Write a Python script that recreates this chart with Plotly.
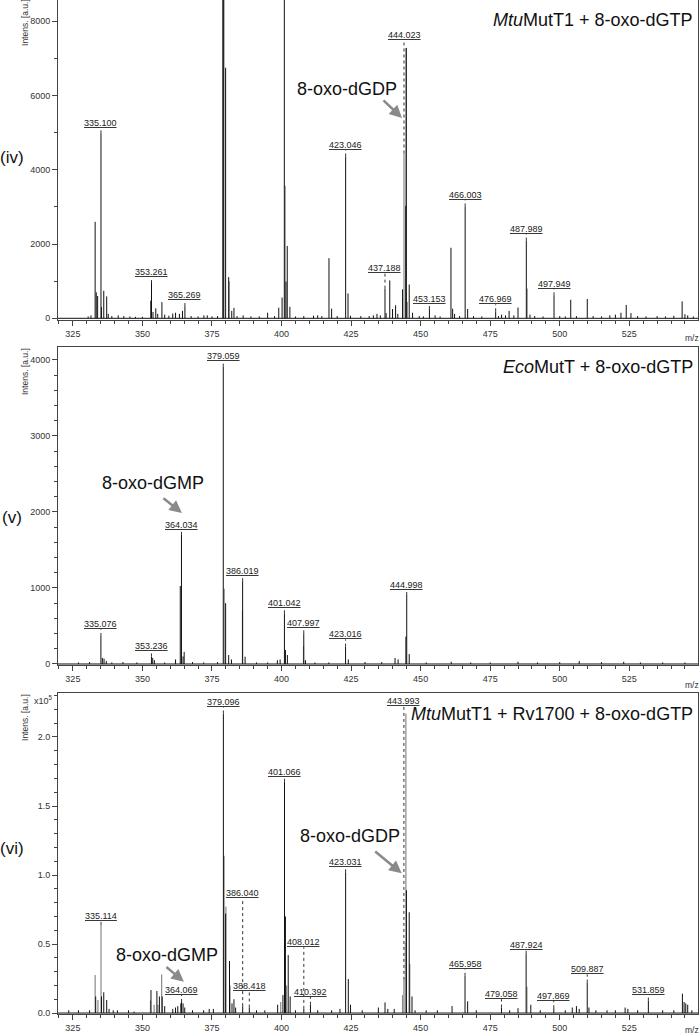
import plotly.graph_objects as go

# ---------------- DATA ----------------
# Panel (iv): MtuMutT1 + 8-oxo-dGTP
iv_black_mz = [330.5, 331.5, 333.0, 333.4, 333.9, 335.1, 335.3, 336.1, 337.15, 337.7, 339.0, 341.3, 343.3, 345.5,
               347.5, 350.0, 353.07, 353.26, 353.8, 354.8, 355.5, 357.0, 358.0, 359.5, 360.9, 361.9, 363.3, 364.4,
               365.27, 367.5, 370.0, 372.1, 373.3, 375.0, 377.0, 378.9, 379.25, 379.9, 381.0, 382.1, 382.9, 384.0,
               386.2, 389.0, 392.0, 395.0, 397.5, 399.0, 400.2, 401.0, 401.6, 402.05, 403.0, 405.0, 408.0, 411.5,
               413.0, 414.5, 417.05, 418.0, 420.0, 423.046, 423.9, 424.8, 428.5, 431.5, 433.0, 434.3, 435.5,
               437.188, 437.6, 438.9, 439.9, 441.0, 441.8, 443.5, 444.65, 444.85, 445.9, 447.1, 449.5, 451.0,
               453.153, 455.2, 457.0, 460.9, 461.5, 462.2, 464.0, 466.003, 466.9, 469.0, 472.0, 476.969, 478.0,
               479.1, 480.5, 481.8, 483.5, 485.0, 487.989, 489.3, 491.0, 494.0, 497.949, 500.0, 502.0, 503.95,
               506.0, 509.9, 512.0, 515.0, 518.0, 520.0, 522.0, 523.9, 525.6, 528.0, 531.0, 535.0, 538.0, 541.0,
               544.0, 545.0, 546.0, 548.0]
iv_black_int = [50, 80, 2600, 700, 600, 4985, 300, 740, 590, 120, 60, 80, 60, 50,
                40, 40, 470, 950, 170, 270, 120, 435, 100, 70, 130, 150, 120, 200,
                330, 60, 50, 80, 80, 50, 60, 16000, 16000, 6750, 1110, 200, 280, 60,
                80, 50, 50, 150, 60, 285, 560, 16000, 990, 1950, 310, 50, 60, 70,
                80, 60, 1620, 260, 60, 4360, 670, 70, 60, 60, 80, 120, 80,
                800, 140, 1020, 250, 350, 120, 780, 3030, 7285, 910, 150, 60, 50,
                250, 80, 50, 1900, 260, 120, 60, 3015, 250, 60, 50, 190, 60,
                100, 80, 200, 80, 290, 2095, 100, 60, 50, 620, 60, 50, 500,
                60, 520, 60, 50, 80, 100, 150, 360, 140, 60, 50, 60, 50, 70,
                455, 110, 80, 50]
iv_grey_mz = [353.0, 379.1, 381.2, 401.3, 444.023, 444.75, 445.2, 488.3]
iv_grey_int = [480, 16000, 1000, 3570, 4440, 7285, 440, 800]
iv_label_mz = [335.100, 353.261, 365.269, 423.046, 437.188, 444.023, 453.153, 466.003, 476.969, 487.989, 497.949]
iv_label_text = ["335.100", "353.261", "365.269", "423.046", "437.188", "444.023", "453.153", "466.003",
                 "476.969", "487.989", "497.949"]
iv_label_y = [5130, 1110, 483, 4540, 1216, 7490, 376, 3187, 376, 2274, 797]
iv_label_top = [4985, 950, 330, 4360, 800, 4440, 250, 3015, 190, 2095, 620]

# Panel (v): EcoMutT + 8-oxo-dGTP
v_black_mz = [327.0, 331.0, 335.076, 335.6, 336.2, 337.0, 339.0, 343.0, 348.0, 353.236, 353.7, 354.3, 358.0,
              361.9, 363.6, 364.034, 364.6, 365.0, 368.0, 372.0, 377.0, 379.059, 379.9, 381.0, 382.0, 386.02,
              386.9, 391.0, 395.0, 398.5, 399.5, 401.042, 401.4, 402.1, 407.997, 408.6, 412.0, 417.0, 423.016,
              424.0, 430.0, 436.0, 440.8, 441.9, 444.7, 444.998, 445.9, 452.0, 461.0, 468.0, 475.0, 485.0,
              492.0, 500.0, 507.0, 515.0, 523.0, 529.0, 537.0, 545.0]
v_black_int = [20, 25, 368, 80, 70, 40, 20, 25, 20, 100, 80, 50, 20,
               60, 1026, 1700, 100, 160, 25, 20, 25, 3912, 800, 118, 60, 1090,
               96, 20, 20, 50, 60, 667, 184, 118, 404, 50, 20, 20, 228,
               60, 25, 25, 79, 60, 360, 908, 130, 20, 30, 20, 20, 30,
               20, 25, 40, 25, 30, 20, 20, 20]
v_grey_mz = [379.4, 385.95, 407.9]
v_grey_int = [990, 700, 237]
v_label_mz = [335.076, 353.236, 364.034, 379.059, 386.019, 401.042, 407.997, 423.016, 444.998]
v_label_text = ["335.076", "353.236", "364.034", "379.059", "386.019", "401.042", "407.997", "423.016", "444.998"]
v_label_y = [456, 176, 1763, 3991, 1158, 733, 478, 325, 974]
v_label_top = [368, 100, 1700, 3912, 1090, 667, 404, 228, 908]

# Panel (vi): MtuMutT1 + Rv1700 + 8-oxo-dGTP  (x10^5)
vi_black_mz = [323.5, 327.0, 331.0, 333.2, 335.3, 336.1, 337.15, 338.0, 339.5, 341.0, 345.0, 347.0, 353.07,
               355.2, 356.1, 357.1, 358.0, 360.9, 361.9, 362.7, 363.8, 364.069, 364.6, 365.2, 368.0, 372.0,
               374.0, 375.5, 379.096, 379.9, 381.3, 382.2, 382.9, 383.5, 386.04, 388.418, 391.0, 394.0, 398.6,
               400.5, 401.066, 401.4, 402.4, 403.1, 405.0, 408.012, 410.392, 413.0, 418.0, 421.0, 423.031,
               424.0, 424.8, 429.0, 434.8, 437.2, 438.2, 440.5, 444.9, 445.9, 446.9, 448.0, 452.0, 456.0,
               461.3, 465.958, 466.9, 470.0, 479.058, 482.0, 485.0, 487.924, 489.6, 493.0, 497.869, 502.0,
               504.5, 506.0, 507.0, 509.887, 510.5, 513.0, 517.0, 520.0, 523.5, 524.5, 528.0, 531.859, 537.0,
               541.0, 544.1, 544.7, 545.3, 546.0, 547.5]
vi_black_int = [0.02, 0.02, 0.02, 0.12, 0.12, 0.15, 0.094, 0.03, 0.02, 0.02, 0.02, 0.01, 0.167,
                0.16, 0.12, 0.12, 0.05, 0.03, 0.04, 0.05, 0.07, 0.08, 0.07, 0.04, 0.02, 0.02,
                0.03, 0.03, 2.17, 0.72, 0.377, 0.07, 0.1, 0.04, 0.05, 0.04, 0.02, 0.02, 0.06,
                0.13, 1.676, 0.70, 0.42, 0.12, 0.02, 0.03, 0.06, 0.02, 0.02, 0.03, 1.02,
                0.246, 0.06, 0.02, 0.04, 0.077, 0.03, 0.03, 0.89, 0.73, 0.12, 0.02, 0.02, 0.02,
                0.05, 0.27, 0.085, 0.02, 0.04, 0.02, 0.035, 0.43, 0.06, 0.02, 0.035, 0.02,
                0.04, 0.05, 0.03, 0.22, 0.04, 0.02, 0.02, 0.02, 0.04, 0.03, 0.02, 0.09, 0.02,
                0.02, 0.14, 0.08, 0.07, 0.06, 0.02]
vi_grey_mz = [333.0, 334.0, 335.114, 352.9, 354.2, 355.6, 356.9, 379.35, 380.0, 381.5, 399.7, 401.8,
              443.5, 443.993, 444.5, 444.7, 446.1, 488.2]
vi_grey_int = [0.275, 0.094, 0.638, 0.09, 0.06, 0.06, 0.28, 1.14, 0.77, 0.2, 0.08, 0.2,
               0.13, 0.24, 0.51, 2.17, 0.355, 0.19]
vi_label_mz = [335.114, 364.069, 379.096, 386.040, 388.418, 401.066, 408.012, 410.392, 423.031, 443.993,
               465.958, 479.058, 487.924, 497.869, 509.887, 531.859]
vi_label_text = ["335.114", "364.069", "379.096", "386.040", "388.418", "401.066", "408.012", "410.392",
                 "423.031", "443.993", "465.958", "479.058", "487.924", "497.869", "509.887", "531.859"]
vi_label_y = [0.669, 0.13, 2.22, 0.83, 0.16, 1.71, 0.476, 0.118, 1.056, 2.227, 0.317, 0.1, 0.457, 0.09, 0.28, 0.13]
vi_label_top = [0.638, 0.08, 2.17, 0.05, 0.04, 1.676, 0.03, 0.06, 1.02, 0.24, 0.27, 0.04, 0.43, 0.035, 0.22, 0.09]

x_tick_vals = [325, 350, 375, 400, 425, 450, 475, 500, 525]
panel_titles = ["<i>Mtu</i>MutT1 + 8-oxo-dGTP", "<i>Eco</i>MutT + 8-oxo-dGTP",
                "<i>Mtu</i>MutT1 + Rv1700 + 8-oxo-dGTP"]
panel_tags = ["(iv)", "(v)", "(vi)"]

# ---------------- FIGURE ----------------
FONT = "Liberation Sans, Arial, sans-serif"
BLACK = "#111111"
GREY = "#8a8a8a"
AX = "#444444"

fig = go.Figure()


def sticks(mz, inten):
    xs, ys = [], []
    for m, v in zip(mz, inten):
        xs += [m, m, None]
        ys += [0, v, None]
    return xs, ys


panels = [
    (iv_black_mz, iv_black_int, iv_grey_mz, iv_grey_int, iv_label_mz, iv_label_text, iv_label_y, iv_label_top),
    (v_black_mz, v_black_int, v_grey_mz, v_grey_int, v_label_mz, v_label_text, v_label_y, v_label_top),
    (vi_black_mz, vi_black_int, vi_grey_mz, vi_grey_int, vi_label_mz, vi_label_text, vi_label_y, vi_label_top),
]

x_range = [319.65, 549.7]
y_ranges = [[-46, 8575], [-13, 4171], [-0.007, 2.319]]
y_domains = [[0.6844, 1.0], [0.3442, 0.6578], [0.0, 0.3166]]
y_dticks = [2000, 1000, 0.5]
y_minor = [1000, 200, 0.1]
y_formats = ["d", "d", ".1f"]

annotations = []
shapes = []

for i, (bm, bi, gm, gi, lm, lt, ly, ltop) in enumerate(panels):
    xa = "x" if i == 0 else f"x{i+1}"
    ya = "y" if i == 0 else f"y{i+1}"
    # baseline
    shapes.append(dict(type="line", xref=f"{xa} domain", yref=ya, x0=0, x1=1, y0=0, y1=0,
                       line=dict(color=BLACK, width=1), layer="above"))
    gx, gy = sticks(gm, gi)
    fig.add_trace(go.Scatter(x=gx, y=gy, mode="lines", line=dict(color=GREY, width=1.2),
                             xaxis=xa, yaxis=ya, showlegend=False, hoverinfo="skip"))
    bx, by = sticks(bm, bi)
    fig.add_trace(go.Scatter(x=bx, y=by, mode="lines", line=dict(color=BLACK, width=1),
                             xaxis=xa, yaxis=ya, showlegend=False, hoverinfo="skip"))
    for m, t, yl, yt in zip(lm, lt, ly, ltop):
        shapes.append(dict(type="line", xref=xa, yref=ya, x0=m, x1=m, y0=yt, y1=yl,
                           line=dict(color="#333333", width=1, dash="dot")))
        annotations.append(dict(x=m, y=yl, xref=xa, yref=ya, text=f"<u>{t}</u>", showarrow=False,
                                yanchor="bottom", xanchor="center", yshift=-2,
                                font=dict(family=FONT, size=9, color="#222222")))

    axis_common = dict(showline=True, mirror=True, linecolor=AX, linewidth=1, showgrid=False,
                       zeroline=False, ticks="outside", tickcolor=AX, ticklen=5, tickwidth=1,
                       tickfont=dict(family=FONT, size=9, color="#333333"))
    fig.update_layout(**{
        ("xaxis" if i == 0 else f"xaxis{i+1}"): dict(
            domain=[0, 1], anchor=ya, range=x_range, tickmode="array", tickvals=x_tick_vals,
            minor=dict(ticks="outside", dtick=5, tick0=325, ticklen=3, tickcolor=AX),
            **axis_common),
        ("yaxis" if i == 0 else f"yaxis{i+1}"): dict(
            domain=y_domains[i], anchor=xa, range=y_ranges[i], dtick=y_dticks[i], tick0=0,
            tickformat=y_formats[i],
            minor=dict(ticks="outside", dtick=y_minor[i], ticklen=3, tickcolor=AX),
            **axis_common),
    })
    # title in top right corner
    annotations.append(dict(x=0.995, y=0.936, xref=f"{xa} domain", yref=f"{ya} domain",
                            text=panel_titles[i], showarrow=False, xanchor="right", yanchor="middle",
                            font=dict(family=FONT, size=18, color="#111111")))

# panel tags, axis captions
tag_y = [0.8442, 0.4892, 0.1637]
intens_y = [0.9783, 0.6341, 0.2929]
mz_y = [0.6667, 0.3245, -0.0158]
for i in range(3):
    annotations.append(dict(x=-0.0719, y=tag_y[i], xref="paper", yref="paper", text=panel_tags[i],
                            showarrow=False, xanchor="center", yanchor="middle",
                            font=dict(family=FONT, size=17, color="#111111")))
    annotations.append(dict(x=-0.0516, y=intens_y[i], xref="paper", yref="paper", text="Intens. [a.u.]",
                            showarrow=False, textangle=-90, xanchor="center", yanchor="middle",
                            font=dict(family=FONT, size=8.5, color="#333333")))
    annotations.append(dict(x=0.9906, y=mz_y[i], xref="paper", yref="paper", text="m/z",
                            showarrow=False, xanchor="center", yanchor="middle",
                            font=dict(family=FONT, size=8.5, color="#333333")))
annotations.append(dict(x=-0.0234, y=0.3097, xref="paper", yref="paper", text="x10<sup>5</sup>",
                        showarrow=False, xanchor="center", yanchor="middle",
                        font=dict(family=FONT, size=9, color="#333333")))

# product annotations with grey arrows
prod_text = ["8-oxo-dGDP", "8-oxo-dGMP", "8-oxo-dGMP", "8-oxo-dGDP"]
prod_axis = [("x", "y"), ("x2", "y2"), ("x3", "y3"), ("x3", "y3")]
prod_text_pos = [(423.5, 6176), (353.8, 2382), (358.8, 0.42), (424.6, 1.285)]
prod_head = [(443.3, 5397), (364.2, 1987), (364.9, 0.227), (443.2, 1.012)]
prod_tail_px = [(-20, -19), (-20, -16), (-19, -16), (-28, -23)]
for t, (xa, ya), (tx, ty), (hx, hy), (ax, ay) in zip(prod_text, prod_axis, prod_text_pos, prod_head, prod_tail_px):
    annotations.append(dict(x=tx, y=ty, xref=xa, yref=ya, text=t, showarrow=False,
                            xanchor="center", yanchor="middle",
                            font=dict(family=FONT, size=18, color="#111111")))
    annotations.append(dict(x=hx, y=hy, xref=xa, yref=ya, text="", showarrow=True, ax=ax, ay=ay,
                            arrowhead=2, arrowsize=1, arrowwidth=2.5, arrowcolor=GREY, standoff=0))

fig.update_layout(
    width=700, height=1034,
    margin=dict(l=58, r=2, t=0, b=20),
    paper_bgcolor="white", plot_bgcolor="white",
    annotations=annotations, shapes=shapes,
    font=dict(family=FONT),
)

fig.write_html("out.html", config={"displayModeBar": False},
               post_script="document.body.style.margin='0';document.body.style.overflow='hidden';")
